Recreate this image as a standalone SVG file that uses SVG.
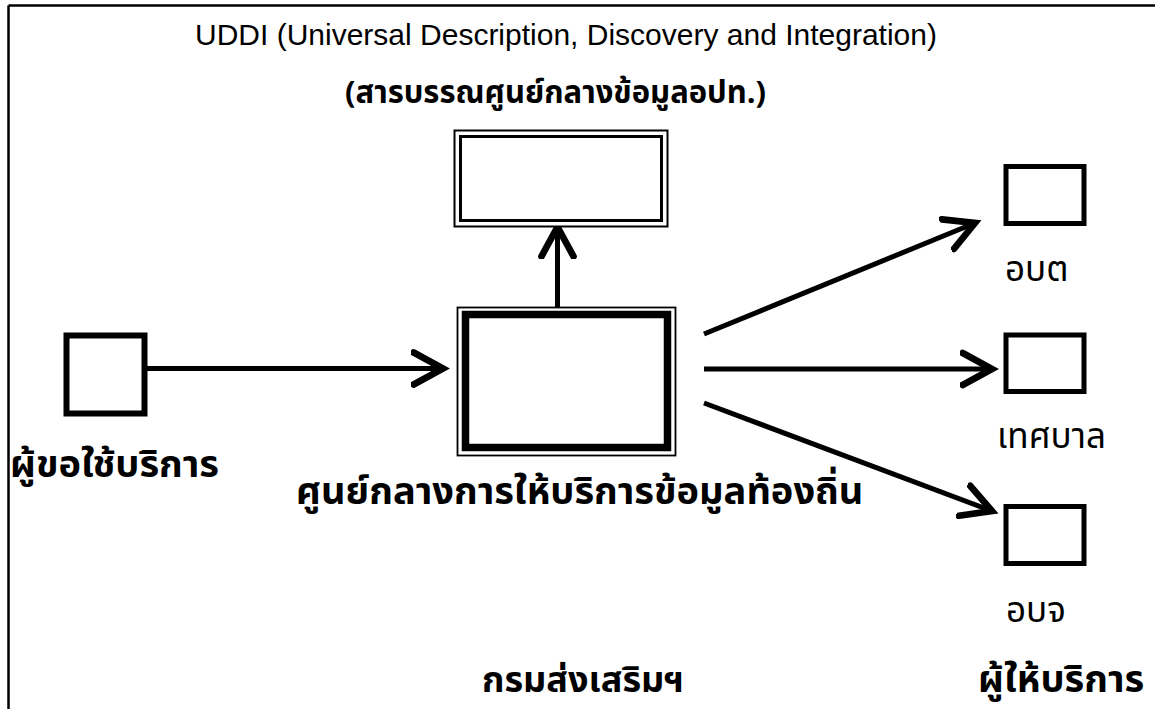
<svg xmlns="http://www.w3.org/2000/svg" width="1157" height="709" viewBox="0 0 1157 709">
<style>
.en{font-family:"Liberation Sans",Arial,sans-serif;font-size:30px;fill:#000}
.th{font-family:"Noto Sans Thai","Tahoma","DejaVu Sans","Noto Sans",sans-serif;fill:#000}
.b{font-weight:bold}
.r{font-size:35px}
.box{fill:#fff;stroke:#000}
.conn{stroke:#000;stroke-width:5;fill:none}
</style>
<defs>
<marker id="ah" markerUnits="userSpaceOnUse" markerWidth="40" markerHeight="40" refX="24" refY="14" orient="auto" viewBox="0 0 30 28">
<path d="M2,2 L24,14 L2,26" fill="none" stroke="#000" stroke-width="5" stroke-linecap="round" stroke-linejoin="miter"/>
</marker>
</defs>
<rect width="1157" height="709" fill="#fff"/>
<g id="frame">
<line x1="8.5" y1="5.5" x2="1155" y2="5.5" stroke="#000" stroke-width="2.5"/>
<line x1="8.5" y1="5.5" x2="8.5" y2="709" stroke="#000" stroke-width="2.5"/>
</g>
<g id="title">
<text class="en" x="195" y="45">UDDI (Universal Description, Discovery and Integration)</text>
<text class="th b" x="345" y="103" font-size="31">(สารบรรณศูนย์กลางข้อมูลอปท.)</text>
</g>
<g id="connectors">
<line class="conn" x1="147" y1="368.5" x2="443" y2="368.5" marker-end="url(#ah)"/>
<line class="conn" x1="557.5" y1="311" x2="557.5" y2="227" marker-end="url(#ah)"/>
<line class="conn" x1="704" y1="334" x2="975" y2="223" marker-end="url(#ah)"/>
<line class="conn" x1="704" y1="369" x2="992" y2="369" marker-end="url(#ah)"/>
<line class="conn" x1="704" y1="403" x2="992" y2="511" marker-end="url(#ah)"/>
</g>
<g id="uddi">
<rect class="box" x="454.5" y="130.5" width="213" height="96" stroke-width="2"/>
<rect class="box" x="460.5" y="136.5" width="201" height="84" stroke-width="3"/>
</g>
<g id="center">
<rect class="box" x="457.5" y="307.5" width="218" height="148" stroke-width="1.8"/>
<rect class="box" x="465.5" y="314.5" width="202" height="133" stroke-width="7.5"/>
<text class="th b" x="296" y="504" font-size="38">ศูนย์กลางการให้บริการข้อมูลท้องถิ่น</text>
</g>
<g id="requester">
<rect class="box" x="66.5" y="335.5" width="78" height="78" stroke-width="6"/>
<text class="th b" x="10" y="477" font-size="38">ผู้ขอใช้บริการ</text>
</g>
<g id="obt">
<rect class="box" x="1006" y="166.5" width="78" height="57" stroke-width="5"/>
<text class="th r" x="1005" y="281">อบต</text>
</g>
<g id="tessaban">
<rect class="box" x="1006" y="335" width="78" height="56.5" stroke-width="5"/>
<text class="th r" x="997" y="448">เทศบาล</text>
</g>
<g id="objor">
<rect class="box" x="1006" y="506.5" width="78" height="57" stroke-width="5"/>
<text class="th r" x="1006" y="622">อบจ</text>
</g>
<g id="dept">
<text class="th b" x="482" y="692" font-size="36">กรมส่งเสริมฯ</text>
</g>
<g id="providers">
<text class="th b" x="978" y="692" font-size="38">ผู้ให้บริการ</text>
</g>
</svg>
